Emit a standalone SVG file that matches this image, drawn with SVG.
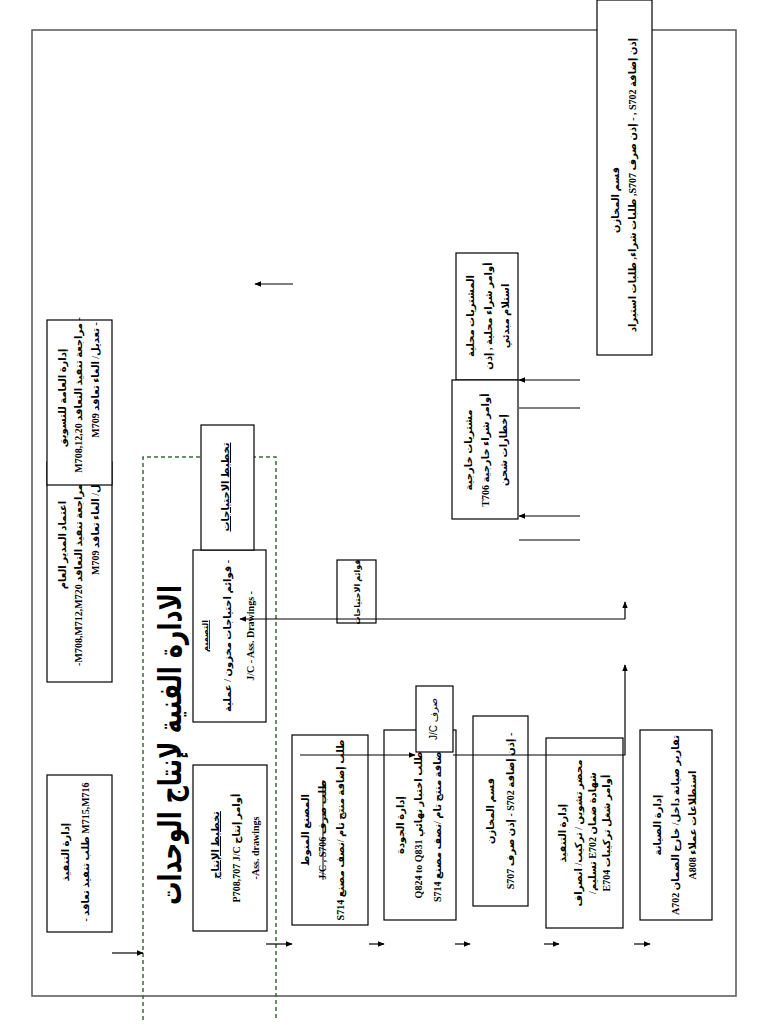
<svg xmlns="http://www.w3.org/2000/svg" width="768" height="1024" viewBox="0 0 768 1024">
<style>
.box{fill:#fff;stroke:#000;stroke-width:1.2}
.t{font-family:"Liberation Serif","DejaVu Sans",serif;font-weight:bold;font-size:10px;fill:#000;text-anchor:middle}
.ts{font-family:"Liberation Sans","DejaVu Sans",sans-serif;font-size:10px;fill:#000;text-anchor:middle}
.c{fill:none;stroke:#000;stroke-width:1.2}
.frame{fill:none;stroke:#555;stroke-width:1.5}
.dash{fill:none;stroke:#3d6b3a;stroke-width:1.5;stroke-dasharray:4,3}
</style>
<defs>
<marker id="ah" viewBox="0 0 10 10" refX="9" refY="5" markerWidth="7" markerHeight="7" orient="auto" markerUnits="userSpaceOnUse">
<path d="M0,1 L10,5 L0,9 z" fill="#000"/>
</marker>
</defs>
<rect width="768" height="1024" fill="#fff"/>
<rect class="frame" x="32" y="30" width="704" height="966"/>
<path class="dash" d="M143,1020 V457 H276 V1020"/>

<g id="title">
<text transform="translate(181,745) rotate(-90)" style="font-family:'DejaVu Sans',sans-serif;font-weight:bold;font-size:32px;text-anchor:middle" direction="rtl" textLength="320" lengthAdjust="spacingAndGlyphs">الادارة الفنية لإنتاج الوحدات</text>
</g>

<g id="node-exec-contract">
<rect class="box" x="47" y="775" width="65" height="157"/>
<text class="t" transform="translate(69,852) rotate(-90)" direction="rtl">إدارة التنفيذ</text>
<text class="t" transform="translate(89,852) rotate(-90)" direction="rtl">M715,M716 طلب تنفيذ تعاقد -</text>
</g>

<g id="node-gm">
<rect class="box" x="47" y="462" width="65" height="220"/>
<text class="t" transform="translate(66,545) rotate(-90)" direction="rtl">اعتماد المدير العام</text>
<text class="t" transform="translate(82,575) rotate(-90)" direction="rtl">مراجعة تنفيذ التعاقد M708,M712,M720-</text>
<text class="t" transform="translate(99,520) rotate(-90)" direction="rtl">تعديل/ الغاء تعاقد M709</text>
</g>

<g id="node-marketing">
<rect class="box" x="47" y="320" width="65" height="165"/>
<text class="t" transform="translate(66,398) rotate(-90)" direction="rtl">إدارة العامة للتسويق</text>
<text class="t" transform="translate(82,395) rotate(-90)" direction="rtl">- مراجعة تنفيذ التعاقد M708,12,20</text>
<text class="t" transform="translate(99,380) rotate(-90)" direction="rtl">- تعديل/ الغاء تعاقد M709</text>
</g>

<g id="node-planning">
<rect class="box" x="193" y="765" width="74" height="166"/>
<text class="t" transform="translate(219,845) rotate(-90)" direction="rtl" text-decoration="underline">تخطيط الإنتاج</text>
<text class="t" transform="translate(240,848) rotate(-90)" direction="rtl">أوامر إنتاج J/C&#x200F;  P708,707</text>
<text class="t" transform="translate(259,848) rotate(-90)">-Ass. drawings</text>
</g>

<g id="node-design">
<rect class="box" x="193" y="550" width="73" height="172"/>
<text class="t" transform="translate(208,636) rotate(-90)" direction="rtl" text-decoration="underline" style="font-size:8px">التصميم</text>
<text class="t" transform="translate(231,636) rotate(-90)" direction="rtl">- قوائم احتياجات مخزون / عملية</text>
<text class="t" transform="translate(254,636) rotate(-90)">J/C  - Ass. Drawings -</text>
</g>

<g id="node-req-planning">
<rect class="box" x="201" y="425" width="53" height="125"/>
<text class="t" transform="translate(229,487) rotate(-90)" direction="rtl" text-decoration="underline">تخطيط الاحتياجات</text>
</g>

<g id="node-req-lists">
<rect class="box" x="337" y="560" width="39" height="63"/>
<text class="t" transform="translate(360,592) rotate(-90)" direction="rtl" style="font-size:8px">قوائم الاحتياجات</text>
</g>

<g id="node-factory">
<rect class="box" x="292" y="735" width="76" height="190"/>
<text class="t" transform="translate(309,830) rotate(-90)" direction="rtl">المصنع المنوط</text>
<text class="t" transform="translate(326,830) rotate(-90)" direction="rtl" text-decoration="line-through">طلب صرف J/C , S706</text>
<text class="t" transform="translate(344,830) rotate(-90)" direction="rtl">طلب إضافة منتج تام /نصف مصنع S714</text>
</g>

<g id="node-quality">
<rect class="box" x="384" y="730" width="72" height="190"/>
<text class="t" transform="translate(404,825) rotate(-90)" direction="rtl">إدارة الجودة</text>
<text class="t" transform="translate(422,825) rotate(-90)" direction="rtl">طلب اختبار نهائي Q824 to Q831</text>
<text class="t" transform="translate(441,825) rotate(-90)" direction="rtl">إضافة منتج تام /نصف مصنع S714</text>
</g>

<g id="node-jc">
<rect class="box" x="416" y="686" width="37" height="66"/>
<text class="ts" transform="translate(437,719) rotate(-90)" direction="rtl">صرف J/C</text>
</g>

<g id="node-stores">
<rect class="box" x="473" y="716" width="55" height="190"/>
<text class="t" transform="translate(494,811) rotate(-90)" direction="rtl">قسم المخازن</text>
<text class="t" transform="translate(514,811) rotate(-90)" direction="rtl">- إذن إضافة S702 - إذن صرف S707</text>
</g>

<g id="node-execution">
<rect class="box" x="546" y="738" width="77" height="190"/>
<text class="t" transform="translate(566,833) rotate(-90)" direction="rtl">إدارة التنفيذ</text>
<text class="t" transform="translate(582,833) rotate(-90)" direction="rtl">محضر تشوين / تركيب/ انصراف</text>
<text class="t" transform="translate(596,833) rotate(-90)" direction="rtl">شهادة ضمان E702 تسليم/</text>
<text class="t" transform="translate(610,833) rotate(-90)" direction="rtl">أوامر شغل تركيبات E704</text>
</g>

<g id="node-maintenance">
<rect class="box" x="640" y="730" width="72" height="190"/>
<text class="t" transform="translate(661,825) rotate(-90)" direction="rtl">إدارة الصيانة</text>
<text class="t" transform="translate(679,825) rotate(-90)" direction="rtl">تقارير صيانة داخل/ خارج الضمان A702</text>
<text class="t" transform="translate(696,825) rotate(-90)" direction="rtl">استطلاعات عملاء A808</text>
</g>

<g id="node-local-purchase">
<rect class="box" x="456" y="253" width="62" height="127"/>
<text class="t" transform="translate(474,316) rotate(-90)" direction="rtl">المشتريات محلية</text>
<text class="t" transform="translate(492,316) rotate(-90)" direction="rtl">أوامر شراء محلية , إذن</text>
<text class="t" transform="translate(509,316) rotate(-90)" direction="rtl">استلام مبدئي</text>
</g>

<g id="node-foreign-purchase">
<rect class="box" x="452" y="380" width="66" height="139"/>
<text class="t" transform="translate(472,450) rotate(-90)" direction="rtl">مشتريات خارجية</text>
<text class="t" transform="translate(489,450) rotate(-90)" direction="rtl">أوامر شراء خارجية T706</text>
<text class="t" transform="translate(507,450) rotate(-90)" direction="rtl">إخطارات شحن</text>
</g>

<g id="node-stores-top">
<rect class="box" x="597" y="0" width="55" height="355"/>
<text class="t" transform="translate(619,200) rotate(-90)" direction="rtl">قسم المخازن</text>
<text class="t" transform="translate(636,185) rotate(-90)" direction="rtl">إذن إضافة S702 , - إذن صرف S707, طلبات شراء, طلبات استيراد</text>
</g>

<g id="connectors">
<line class="c" x1="293" y1="284" x2="255" y2="284" marker-end="url(#ah)"/>
<line class="c" x1="112" y1="953" x2="143" y2="953" marker-end="url(#ah)"/>
<line class="c" x1="266" y1="944" x2="292" y2="944" marker-end="url(#ah)"/>
<line class="c" x1="369" y1="944" x2="384" y2="944" marker-end="url(#ah)"/>
<line class="c" x1="455" y1="944" x2="470" y2="944" marker-end="url(#ah)"/>
<line class="c" x1="544" y1="944" x2="559" y2="944" marker-end="url(#ah)"/>
<line class="c" x1="634" y1="944" x2="650" y2="944" marker-end="url(#ah)"/>
<line class="c" x1="580" y1="380" x2="519" y2="380" marker-end="url(#ah)"/>
<line class="c" x1="519" y1="408" x2="580" y2="408"/>
<line class="c" x1="580" y1="516" x2="519" y2="516" marker-end="url(#ah)"/>
<line class="c" x1="519" y1="540" x2="580" y2="540"/>
<line class="c" x1="625" y1="619" x2="240" y2="619" marker-end="url(#ah)"/>
<line class="c" x1="625" y1="619" x2="625" y2="602" marker-end="url(#ah)"/>
<line class="c" x1="300" y1="755" x2="415" y2="755" marker-end="url(#ah)"/>
<polyline class="c" points="453,755 625,755 625,665" marker-end="url(#ah)"/>
</g>
</svg>
